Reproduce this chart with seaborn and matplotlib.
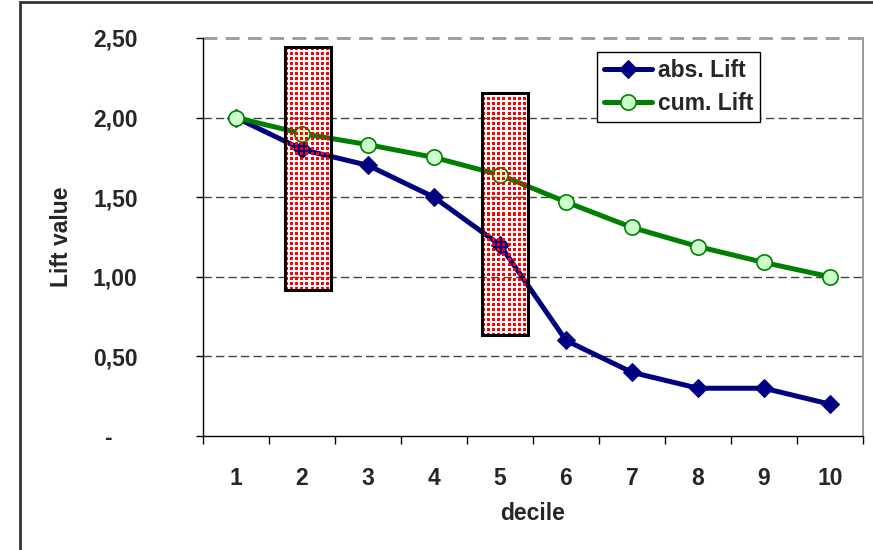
import numpy as np
import pandas as pd
import matplotlib
matplotlib.use("Agg")
import matplotlib.pyplot as plt
from matplotlib.patches import Rectangle
from matplotlib.ticker import FixedLocator, NullFormatter
import seaborn as sns

# Lift per decile
deciles = [1, 2, 3, 4, 5, 6, 7, 8, 9, 10]
abs_lift = [2.00, 1.80, 1.70, 1.50, 1.20, 0.60, 0.40, 0.30, 0.30, 0.20]
cum_lift = [2.00, 1.90, 1.83, 1.75, 1.64, 1.47, 1.31, 1.19, 1.09, 1.00]
series_names = ["abs. Lift", "cum. Lift"]
y_ticks = [0.0, 0.5, 1.0, 1.5, 2.0, 2.5]
y_tick_labels = ["-    ", "0,50", "1,00", "1,50", "2,00", "2,50"]

df = pd.DataFrame({"decile": deciles, "abs": abs_lift, "cum": cum_lift})

sns.set_style("white")
plt.rcParams["font.family"] = ["Liberation Sans", "DejaVu Sans"]
plt.rcParams["font.weight"] = "bold"

W, H = 873, 550
fig = plt.figure(figsize=(W / 100, H / 100), dpi=100)
ax = fig.add_axes([203 / W, 1 - 436 / H, 660 / W, 398 / H])

FS = 16.5
NAVY = "#000080"
GREEN = "#008000"

# horizontal gridlines
for v in y_ticks[1:-1]:
    ax.axhline(v, color="#444444", lw=1.0, ls=(0, (6, 3)), zorder=1)
ax.axhline(2.5, color="#999999", lw=2.0, ls=(0, (5, 3)), zorder=1, clip_on=False)

sns.lineplot(data=df, x="decile", y="abs", ax=ax, color=NAVY, lw=3.6,
             marker="D", markersize=9.5, markeredgecolor=NAVY,
             label=series_names[0], zorder=3)
sns.lineplot(data=df, x="decile", y="cum", ax=ax, color=GREEN, lw=3.6,
             marker="o", markersize=11, markerfacecolor="#CCFFCC",
             markeredgecolor=GREEN, markeredgewidth=1.2,
             label=series_names[1], zorder=3)

# highlighted deciles: red dot pattern with transparent background
def dotted_box(x0, x1, y0, y1, wpx, hpx):
    img = np.zeros((hpx, wpx, 4))
    yy, xx = np.mgrid[0:hpx, 0:wpx]
    mask = ((yy % 5) < 3) & ((xx % 5) < 3)
    img[mask] = [1, 0, 0, 1]
    ax.imshow(img, extent=[x0, x1, y0, y1], origin="upper",
              interpolation="nearest", aspect="auto", zorder=5)
    ax.add_patch(Rectangle((x0, y0), x1 - x0, y1 - y0, fill=False,
                           edgecolor="black", lw=2.2, zorder=6))

dotted_box(1.742, 2.439, 0.917, 2.443, 46, 243)
dotted_box(4.727, 5.424, 0.634, 2.155, 46, 242)

ax.set_xlim(0.5, 10.5)
ax.set_ylim(0, 2.5)

ax.set_xticks(deciles)
ax.set_xticklabels([str(d) for d in deciles], fontsize=FS, fontweight="bold")
ax.xaxis.set_minor_locator(FixedLocator(np.arange(0.5, 11, 1.0)))
ax.xaxis.set_minor_formatter(NullFormatter())
ax.tick_params(axis="x", which="major", length=0, pad=22)
ax.tick_params(axis="x", which="minor", length=6, width=1, color="black",
               direction="out", bottom=True)

ax.set_yticks(y_ticks)
ax.set_yticklabels(y_tick_labels, fontsize=FS, fontweight="bold")
ax.tick_params(axis="y", which="major", length=5, width=1, color="black",
               direction="out", left=True, pad=42)

for s in ["left", "bottom"]:
    ax.spines[s].set_color("black")
    ax.spines[s].set_linewidth(1.0)
ax.spines["right"].set_color("#888888")
ax.spines["right"].set_linewidth(1.2)
ax.spines["top"].set_visible(False)

ax.set_xlabel("decile", fontsize=FS, fontweight="bold")
ax.set_ylabel("Lift value", fontsize=FS, fontweight="bold")
ax.xaxis.set_label_coords(0.5, -0.165)
ax.yaxis.set_label_coords(-0.197, 0.5)

leg = ax.legend(loc="upper left", bbox_to_anchor=(0.597, 0.965),
                borderaxespad=0, fancybox=False, framealpha=1,
                edgecolor="black", prop={"size": FS, "weight": "bold"},
                handlelength=2.1, handletextpad=0.25, labelspacing=0.45,
                borderpad=0.3)
leg.get_frame().set_linewidth(1.0)
leg.set_zorder(7)

# outer frame
fig.add_artist(Rectangle((20 / W, -0.05), 1.2, 1 - 2 / H + 0.05,
                         transform=fig.transFigure, fill=False,
                         edgecolor="#333333", lw=2))

fig.savefig("out.png", dpi=100)
